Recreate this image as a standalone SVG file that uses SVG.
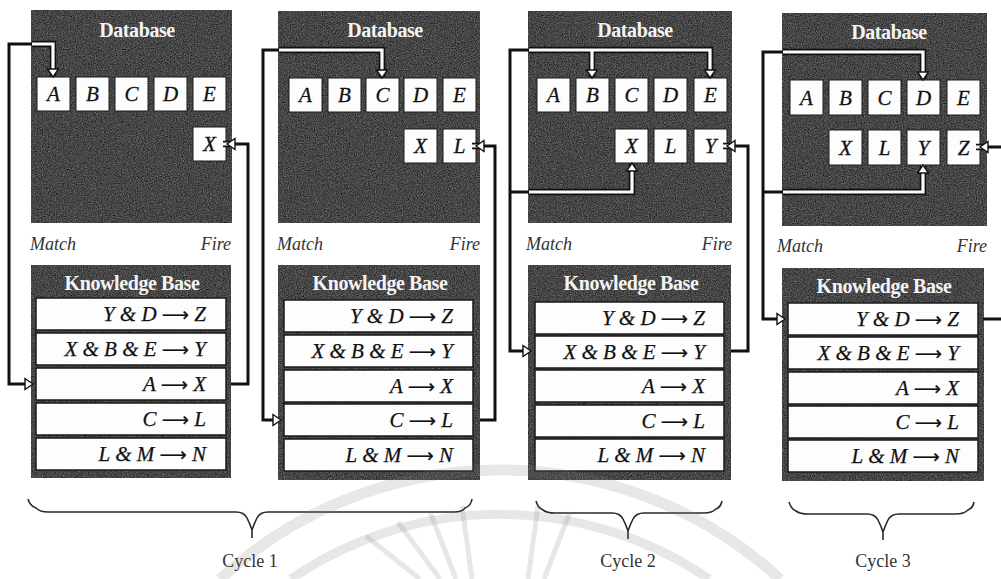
<svg xmlns="http://www.w3.org/2000/svg" xmlns:xlink="http://www.w3.org/1999/xlink" width="1001" height="579" viewBox="0 0 1001 579">
  <style>
    .box { fill: #454545; stroke: #1e1e1e; stroke-width: 1.5; filter: url(#grain); }
    .title { font-family: "Liberation Serif", "DejaVu Serif", serif; font-weight: bold; font-size: 20px; fill: #f4f4f4; text-anchor: middle; letter-spacing: -0.4px; }
    .cell { fill: #fdfdfd; stroke: #1a1a1a; stroke-width: 1; }
    .sym { font-family: "Liberation Serif", "DejaVu Serif", serif; font-style: italic; font-size: 21px; fill: #111; stroke: #111; stroke-width: 0.3; text-anchor: middle; }
    .row { fill: #fdfdfd; stroke: #1a1a1a; stroke-width: 1.5; }
    .rule { font-family: "Liberation Serif", "DejaVu Serif", serif; font-style: italic; font-size: 21px; fill: #111; stroke: #111; stroke-width: 0.25; text-anchor: end; }
    .arw { font-family: "DejaVu Sans", sans-serif; font-style: normal; font-size: 19px; }
    .phase { font-family: "Liberation Serif", "DejaVu Serif", serif; font-style: italic; font-size: 18px; fill: #333; }
    .wire { fill: none; stroke: #111; stroke-width: 3; stroke-linejoin: miter; }
    .wire-dark { fill: none; stroke: #111; stroke-width: 6.5; }
    .wire-light { fill: none; stroke: #fafafa; stroke-width: 3.2; }
    .head { fill: #fafafa; stroke: #111; stroke-width: 1.4; stroke-linejoin: miter; }
    .brace { fill: none; stroke: #2a2a2a; stroke-width: 1.6; }
    .cycle { font-family: "Liberation Serif", "DejaVu Serif", serif; font-size: 18px; fill: #333; text-anchor: middle; }
    .mark { fill: none; stroke: #7a7a7a; stroke-opacity: 0.18; }
  </style>
  <defs>
    <filter id="grain" x="0" y="0" width="100%" height="100%" color-interpolation-filters="sRGB">
      <feTurbulence type="fractalNoise" baseFrequency="0.85" numOctaves="2" seed="7" result="noise"/>
      <feColorMatrix in="noise" type="matrix" values="0.33 0.33 0.33 0 0  0.33 0.33 0.33 0 0  0.33 0.33 0.33 0 0  0 0 0 0 1" result="grey"/>
      <feComponentTransfer in="grey" result="tone">
        <feFuncR type="linear" slope="0.9" intercept="-0.17"/>
        <feFuncG type="linear" slope="0.9" intercept="-0.17"/>
        <feFuncB type="linear" slope="0.9" intercept="-0.17"/>
      </feComponentTransfer>
      <feComposite in="tone" in2="SourceAlpha" operator="in" result="tex"/>
      <feMerge>
        <feMergeNode in="tex"/>
      </feMerge>
    </filter>
    <!-- hollow arrowhead, tip at the origin, pointing along +x -->
    <path id="ah" class="head" d="M0 0 L-8 -5.5 L-8 5.5 Z"/>
    <!-- interiors of the four database panels -->
    <clipPath id="cp1"><rect x="32" y="11" width="199" height="211"/></clipPath>
    <clipPath id="cp2"><rect x="279" y="12" width="200" height="210"/></clipPath>
    <clipPath id="cp3"><rect x="529" y="12" width="202" height="210"/></clipPath>
    <clipPath id="cp4"><rect x="783" y="14" width="203" height="211"/></clipPath>
    <!-- match / fire routes -->
    <path id="m1" d="M 53 76 V 44 H 9 V 384 H 28"/>
    <path id="f1" d="M 231 384 H 248 V 144 H 223"/>
    <path id="m2" d="M 382 77 V 50 H 263 V 420 H 275"/>
    <path id="f2" d="M 480 420 H 495 V 146 H 472"/>
    <path id="m3" d="M 592 77 V 50 H 710 V 77 M 592 50 H 510 V 351 H 525 M 510 192 H 632 V 164"/>
    <path id="f3" d="M 731 351 H 748 V 146 H 723"/>
    <path id="m4" d="M 923 79 V 52 H 763 V 319 H 779 M 763 192 H 923 V 165"/>
    <path id="f4" d="M 983 319 H 1001 M 1001 147 H 976"/>
  </defs>

  <rect width="1001" height="579" fill="#ffffff"/>

  <!-- ===== database panels ===== -->
  <g id="db-1">
    <rect class="box" x="31" y="10" width="201" height="213"/>
    <text class="title" x="137" y="37">Database</text>
    <rect class="cell" x="37" y="77" width="33" height="34"/><text class="sym" x="53.5" y="101">A</text>
    <rect class="cell" x="76" y="77" width="33" height="34"/><text class="sym" x="92.5" y="101">B</text>
    <rect class="cell" x="115" y="77" width="33" height="34"/><text class="sym" x="131.5" y="101">C</text>
    <rect class="cell" x="154" y="77" width="33" height="34"/><text class="sym" x="170.5" y="101">D</text>
    <rect class="cell" x="193" y="77" width="33" height="34"/><text class="sym" x="209.5" y="101">E</text>
    <rect class="cell" x="193" y="127" width="33" height="34"/><text class="sym" x="209.5" y="151">X</text>
  </g>
  <g id="db-2">
    <rect class="box" x="278" y="11" width="202" height="212"/>
    <text class="title" x="385" y="37">Database</text>
    <rect class="cell" x="289" y="78" width="33" height="34"/><text class="sym" x="305.5" y="102">A</text>
    <rect class="cell" x="328" y="78" width="33" height="34"/><text class="sym" x="344.5" y="102">B</text>
    <rect class="cell" x="366" y="78" width="33" height="34"/><text class="sym" x="382.5" y="102">C</text>
    <rect class="cell" x="404" y="78" width="33" height="34"/><text class="sym" x="420.5" y="102">D</text>
    <rect class="cell" x="443" y="78" width="33" height="34"/><text class="sym" x="459.5" y="102">E</text>
    <rect class="cell" x="404" y="129" width="33" height="34"/><text class="sym" x="420.5" y="153">X</text>
    <rect class="cell" x="443" y="129" width="33" height="34"/><text class="sym" x="459.5" y="153">L</text>
  </g>
  <g id="db-3">
    <rect class="box" x="528" y="11" width="204" height="212"/>
    <text class="title" x="635" y="37">Database</text>
    <rect class="cell" x="537" y="78" width="33" height="34"/><text class="sym" x="553.5" y="102">A</text>
    <rect class="cell" x="576" y="78" width="33" height="34"/><text class="sym" x="592.5" y="102">B</text>
    <rect class="cell" x="615" y="78" width="33" height="34"/><text class="sym" x="631.5" y="102">C</text>
    <rect class="cell" x="654" y="78" width="33" height="34"/><text class="sym" x="670.5" y="102">D</text>
    <rect class="cell" x="694" y="78" width="33" height="34"/><text class="sym" x="710.5" y="102">E</text>
    <rect class="cell" x="615" y="129" width="33" height="34"/><text class="sym" x="631.5" y="153">X</text>
    <rect class="cell" x="654" y="129" width="33" height="34"/><text class="sym" x="670.5" y="153">L</text>
    <rect class="cell" x="694" y="129" width="33" height="34"/><text class="sym" x="710.5" y="153">Y</text>
  </g>
  <g id="db-4">
    <rect class="box" x="782" y="13" width="205" height="213"/>
    <text class="title" x="889" y="39">Database</text>
    <rect class="cell" x="790" y="80" width="33" height="35"/><text class="sym" x="806.5" y="105">A</text>
    <rect class="cell" x="829" y="80" width="33" height="35"/><text class="sym" x="845.5" y="105">B</text>
    <rect class="cell" x="868" y="80" width="33" height="35"/><text class="sym" x="884.5" y="105">C</text>
    <rect class="cell" x="907" y="80" width="33" height="35"/><text class="sym" x="923.5" y="105">D</text>
    <rect class="cell" x="947" y="80" width="33" height="35"/><text class="sym" x="963.5" y="105">E</text>
    <rect class="cell" x="829" y="130" width="33" height="35"/><text class="sym" x="845.5" y="155">X</text>
    <rect class="cell" x="868" y="130" width="33" height="35"/><text class="sym" x="884.5" y="155">L</text>
    <rect class="cell" x="907" y="130" width="33" height="35"/><text class="sym" x="923.5" y="155">Y</text>
    <rect class="cell" x="947" y="130" width="33" height="35"/><text class="sym" x="963.5" y="155">Z</text>
  </g>

  <!-- ===== match / fire captions ===== -->
  <g id="phases">
    <text class="phase" x="30" y="250">Match</text>
    <text class="phase" x="231" y="250" text-anchor="end">Fire</text>
    <text class="phase" x="277" y="250">Match</text>
    <text class="phase" x="480" y="250" text-anchor="end">Fire</text>
    <text class="phase" x="526" y="250">Match</text>
    <text class="phase" x="732" y="250" text-anchor="end">Fire</text>
    <text class="phase" x="777" y="252">Match</text>
    <text class="phase" x="987" y="252" text-anchor="end">Fire</text>
  </g>

  <!-- ===== knowledge bases ===== -->
  <g id="kb-1">
    <rect class="box" x="31" y="265" width="200" height="213"/>
    <text class="title" x="132" y="290">Knowledge Base</text>
    <rect class="row" x="36" y="298" width="190" height="32"/><text class="rule" x="206" y="321">Y &amp; D <tspan class="arw">⟶</tspan> Z</text>
    <rect class="row" x="36" y="333" width="190" height="32"/><text class="rule" x="206" y="356">X &amp; B &amp; E <tspan class="arw">⟶</tspan> Y</text>
    <rect class="row" x="36" y="368" width="190" height="32"/><text class="rule" x="206" y="391">A <tspan class="arw">⟶</tspan> X</text>
    <rect class="row" x="36" y="403" width="190" height="32"/><text class="rule" x="206" y="426">C <tspan class="arw">⟶</tspan> L</text>
    <rect class="row" x="36" y="438" width="190" height="32"/><text class="rule" x="206" y="461">L &amp; M <tspan class="arw">⟶</tspan> N</text>
  </g>
  <g id="kb-2">
    <rect class="box" x="278" y="265" width="202" height="215"/>
    <text class="title" x="380" y="290">Knowledge Base</text>
    <rect class="row" x="284" y="300" width="189" height="32"/><text class="rule" x="453" y="323">Y &amp; D <tspan class="arw">⟶</tspan> Z</text>
    <rect class="row" x="284" y="335" width="189" height="32"/><text class="rule" x="453" y="358">X &amp; B &amp; E <tspan class="arw">⟶</tspan> Y</text>
    <rect class="row" x="284" y="370" width="189" height="32"/><text class="rule" x="453" y="393">A <tspan class="arw">⟶</tspan> X</text>
    <rect class="row" x="284" y="404" width="189" height="32"/><text class="rule" x="453" y="427">C <tspan class="arw">⟶</tspan> L</text>
    <rect class="row" x="284" y="439" width="189" height="32"/><text class="rule" x="453" y="462">L &amp; M <tspan class="arw">⟶</tspan> N</text>
  </g>
  <g id="kb-3">
    <rect class="box" x="528" y="265" width="203" height="215"/>
    <text class="title" x="631" y="290">Knowledge Base</text>
    <rect class="row" x="535" y="302" width="189" height="32"/><text class="rule" x="705" y="325">Y &amp; D <tspan class="arw">⟶</tspan> Z</text>
    <rect class="row" x="535" y="336" width="189" height="32"/><text class="rule" x="705" y="359">X &amp; B &amp; E <tspan class="arw">⟶</tspan> Y</text>
    <rect class="row" x="535" y="370" width="189" height="32"/><text class="rule" x="705" y="393">A <tspan class="arw">⟶</tspan> X</text>
    <rect class="row" x="535" y="405" width="189" height="32"/><text class="rule" x="705" y="428">C <tspan class="arw">⟶</tspan> L</text>
    <rect class="row" x="535" y="439" width="189" height="32"/><text class="rule" x="705" y="462">L &amp; M <tspan class="arw">⟶</tspan> N</text>
  </g>
  <g id="kb-4">
    <rect class="box" x="782" y="268" width="202" height="213"/>
    <text class="title" x="884" y="293">Knowledge Base</text>
    <rect class="row" x="788" y="303" width="190" height="32"/><text class="rule" x="959" y="326">Y &amp; D <tspan class="arw">⟶</tspan> Z</text>
    <rect class="row" x="788" y="337" width="190" height="32"/><text class="rule" x="959" y="360">X &amp; B &amp; E <tspan class="arw">⟶</tspan> Y</text>
    <rect class="row" x="788" y="372" width="190" height="32"/><text class="rule" x="959" y="395">A <tspan class="arw">⟶</tspan> X</text>
    <rect class="row" x="788" y="406" width="190" height="32"/><text class="rule" x="959" y="429">C <tspan class="arw">⟶</tspan> L</text>
    <rect class="row" x="788" y="440" width="190" height="32"/><text class="rule" x="959" y="463">L &amp; M <tspan class="arw">⟶</tspan> N</text>
  </g>

  <!-- ===== connectors ===== -->
  <g id="connectors">
    <use xlink:href="#m1" class="wire"/>
    <use xlink:href="#f1" class="wire"/>
    <use xlink:href="#m2" class="wire"/>
    <use xlink:href="#f2" class="wire"/>
    <use xlink:href="#m3" class="wire"/>
    <use xlink:href="#f3" class="wire"/>
    <use xlink:href="#m4" class="wire"/>
    <use xlink:href="#f4" class="wire"/>
    <!-- inside the dark panels the routes turn into white outlined bands -->
    <g clip-path="url(#cp1)">
      <use xlink:href="#m1" class="wire-dark"/><use xlink:href="#m1" class="wire-light"/>
      <use xlink:href="#f1" class="wire-dark"/><use xlink:href="#f1" class="wire-light"/>
    </g>
    <g clip-path="url(#cp2)">
      <use xlink:href="#m2" class="wire-dark"/><use xlink:href="#m2" class="wire-light"/>
      <use xlink:href="#f2" class="wire-dark"/><use xlink:href="#f2" class="wire-light"/>
    </g>
    <g clip-path="url(#cp3)">
      <use xlink:href="#m3" class="wire-dark"/><use xlink:href="#m3" class="wire-light"/>
      <use xlink:href="#f3" class="wire-dark"/><use xlink:href="#f3" class="wire-light"/>
    </g>
    <g clip-path="url(#cp4)">
      <use xlink:href="#m4" class="wire-dark"/><use xlink:href="#m4" class="wire-light"/>
      <use xlink:href="#f4" class="wire-dark"/><use xlink:href="#f4" class="wire-light"/>
    </g>
    <!-- arrowheads -->
    <use xlink:href="#ah" transform="translate(53 77) rotate(90)"/>
    <use xlink:href="#ah" transform="translate(33 384)"/>
    <use xlink:href="#ah" transform="translate(227 144) rotate(180)"/>

    <use xlink:href="#ah" transform="translate(382 78) rotate(90)"/>
    <use xlink:href="#ah" transform="translate(281 420)"/>
    <use xlink:href="#ah" transform="translate(476 146) rotate(180)"/>

    <use xlink:href="#ah" transform="translate(592 78) rotate(90)"/>
    <use xlink:href="#ah" transform="translate(710 78) rotate(90)"/>
    <use xlink:href="#ah" transform="translate(632 163) rotate(-90)"/>
    <use xlink:href="#ah" transform="translate(531 351)"/>
    <use xlink:href="#ah" transform="translate(727 146) rotate(180)"/>

    <use xlink:href="#ah" transform="translate(923 80) rotate(90)"/>
    <use xlink:href="#ah" transform="translate(923 165) rotate(-90)"/>
    <use xlink:href="#ah" transform="translate(785 319)"/>
    <use xlink:href="#ah" transform="translate(980 147) rotate(180)"/>
  </g>

  <!-- ===== cycle braces ===== -->
  <g id="cycle-1">
    <path class="brace" d="M 28 499 Q 30 506 36 508 Q 40 512 48 512 H 236 Q 244 512 247 518 Q 250 524 252 530 Q 254 524 257 518 Q 260 512 268 512 H 454 Q 462 512 465 508 Q 471 506 472 499 M 252 528 V 538"/>
    <text class="cycle" x="250" y="567">Cycle 1</text>
  </g>
  <g id="cycle-2">
    <path class="brace" d="M 536 501 Q 538 508 543 510 Q 547 513 555 513 H 612 Q 620 513 623 519 Q 626 525 628 531 Q 630 525 633 519 Q 636 513 644 513 H 704 Q 712 513 716 509 Q 721 507 722 501 M 628 529 V 539"/>
    <text class="cycle" x="628" y="567">Cycle 2</text>
  </g>
  <g id="cycle-3">
    <path class="brace" d="M 789 502 Q 791 509 796 511 Q 800 514 808 514 H 867 Q 875 514 878 520 Q 881 526 883 532 Q 885 526 888 520 Q 891 514 899 514 H 956 Q 964 514 968 510 Q 973 508 974 502 M 883 530 V 540"/>
    <text class="cycle" x="883" y="567">Cycle 3</text>
  </g>

  <!-- faint emblem behind the lower part of the sheet -->
  <g id="emblem">
    <path class="mark" stroke-width="11" d="M 220 579 A 414 414 0 0 1 780 579"/>
    <path class="mark" stroke-width="9" d="M 291 579 A 370 370 0 0 1 709 579"/>
    <g stroke-width="5" class="mark">
      <path d="M 366 536 L 420 579"/>
      <path d="M 398 522 L 440 579"/>
      <path d="M 430 512 L 456 579"/>
      <path d="M 462 506 L 472 579"/>
      <path d="M 538 506 L 528 579"/>
      <path d="M 570 512 L 544 579"/>
    </g>
  </g>
</svg>
